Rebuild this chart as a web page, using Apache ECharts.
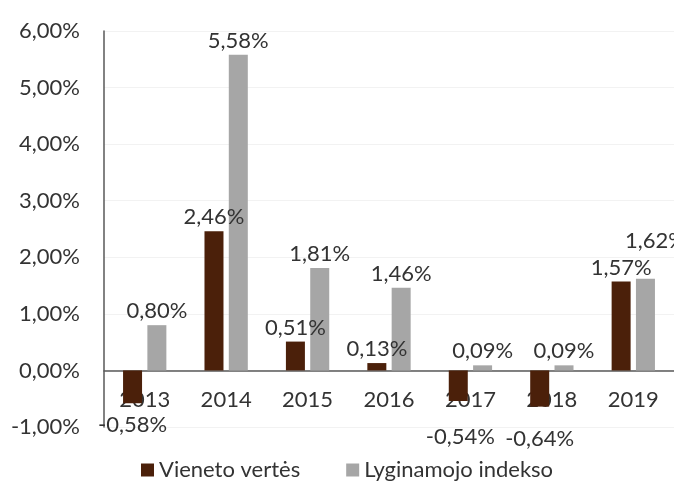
<!DOCTYPE html>
<html>
<head>
<meta charset="utf-8">
<script src="https://cdn.jsdelivr.net/npm/echarts@6/dist/echarts.min.js"></script>
<style>html,body{margin:0;padding:0;background:#fff;}#c{width:674px;height:488px;}</style>
</head>
<body>
<div id="c"></div>
<script>
const categories = ['2013', '2014', '2015', '2016', '2017', '2018', '2019'];
const seriesNames = ['Vieneto vertės', 'Lyginamojo indekso'];
const unitValues = [-0.58, 2.46, 0.51, 0.13, -0.54, -0.64, 1.57];
const indexValues = [0.80, 5.58, 1.81, 1.46, 0.09, 0.09, 1.62];
const yTicks = { min: -1, max: 6, interval: 1 };

const FONT = 'Lato, "Open Sans", sans-serif';
const FS = 22;
const TXT = '#333333';
const fmt = v => v.toFixed(2).replace('.', ',') + '%';

function toData(arr, special) {
  return arr.map((v, i) => {
    const item = { value: v, label: { position: v < 0 ? 'bottom' : 'top' } };
    if (special && special[i]) item.label = Object.assign(item.label, special[i]);
    return item;
  });
}

const chart = echarts.init(document.getElementById('c'));
const labelBase = {
  show: true, color: TXT, fontFamily: FONT, fontSize: FS, distance: 3,
  formatter: p => fmt(p.value)
};
chart.setOption({
  animation: false,
  grid: { left: 104, top: 31, width: 578, height: 396, containLabel: false },
  legend: {
    bottom: 2, left: 136, itemWidth: 13, itemHeight: 13, itemGap: 46,
    icon: 'rect',
    textStyle: { fontFamily: FONT, fontSize: FS, color: TXT },
    data: seriesNames
  },
  xAxis: {
    type: 'category', data: categories, z: 1,
    axisLine: { onZero: true, lineStyle: { color: '#595959', width: 1.5 } },
    axisTick: { show: false },
    axisLabel: { fontFamily: FONT, fontSize: FS, color: TXT, margin: -38 }
  },
  yAxis: {
    type: 'value', min: yTicks.min, max: yTicks.max, interval: yTicks.interval,
    axisLine: { show: true, lineStyle: { color: '#595959', width: 1.5 } },
    axisTick: { show: false },
    splitLine: { show: true, lineStyle: { color: '#f2f2f2' } },
    axisLabel: { fontFamily: FONT, fontSize: FS, color: TXT, margin: 24, formatter: v => fmt(v) }
  },
  series: [
    {
      name: seriesNames[0], type: 'bar', z: 5,
      data: toData(unitValues, { 0: { offset: [0, 8] }, 4: { offset: [2, 22] }, 5: { offset: [0, 18] } }),
      barWidth: 19, barGap: '28%',
      itemStyle: { color: '#4B200A' },
      label: labelBase
    },
    {
      name: seriesNames[1], type: 'bar', z: 5,
      data: toData(indexValues, { 6: { offset: [10, -24] } }),
      barWidth: 19,
      itemStyle: { color: '#A6A6A6' },
      label: labelBase
    }
  ]
});
</script>
</body>
</html>
